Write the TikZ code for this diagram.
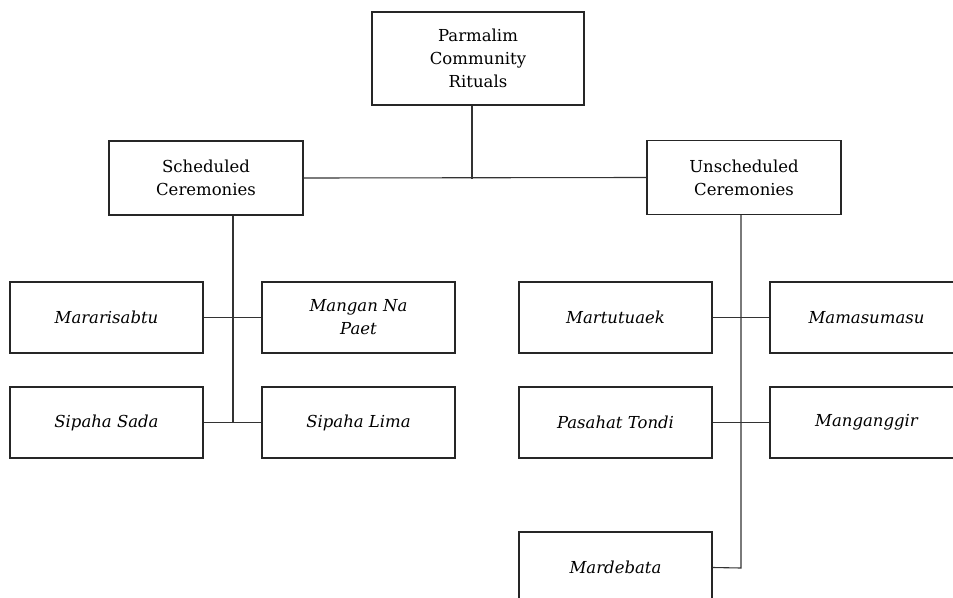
\documentclass[tikz,border=0pt]{standalone}
\usepackage{fontspec}
\setmainfont{DejaVu Serif}
\usepackage{tikz}
\usetikzlibrary{positioning}

\tikzset{
  box/.style={draw=black!85, line width=1.1pt, fill=white, align=center, inner sep=0pt,
    font=\fontsize{16.5}{23}\selectfont},
  topbox/.style={box, minimum width=212, minimum height=93},
  midbox/.style={box, minimum width=194, minimum height=74},
  leafbox/.style={box, minimum width=193, minimum height=71, font=\fontsize{16.5}{23}\selectfont\itshape},
  link/.style={draw=black!80, line width=1.1pt}
}

\begin{document}
\begin{tikzpicture}[x=1pt, y=-1pt]
\useasboundingbox (0,0) rectangle (953,597);
\clip (0,0) rectangle (953,597);
\fill[white] (0,0) rectangle (953,597);

\coordinate (hub) at (472,179);
\coordinate (lspine) at (233,423);
\coordinate (rspine) at (741,568);

\node[topbox] (root) at (478,58.5) {Parmalim\\Community\\Rituals};
\node[midbox] (sched) at (206,178) {Scheduled\\Ceremonies};
\node[midbox] (unsched) at (744,177.5) {Unscheduled\\Ceremonies};

\node[leafbox] (mararisabtu) at (106.5,317.5) {Mararisabtu};
\node[leafbox] (mangan) at (358.5,317.5) {Mangan Na\\Paet};
\node[leafbox] (sipahasada) at (106.5,422.5) {Sipaha Sada};
\node[leafbox] (sipahalima) at (358.5,422.5) {Sipaha Lima};

\node[leafbox] (martutuaek) at (615.5,317.5) {Martutuaek};
\node[leafbox] (mamasumasu) at (866.5,317.5) {Mamasumasu};
\node[leafbox] (pasahat) at (615.5,422.5) {Pasahat Tondi};
\node[leafbox] (manganggir) at (866.5,422.5) {Manganggir};
\node[leafbox] (mardebata) at (615.5,567.5) {Mardebata};

\draw[link] (root.south -| hub) -- (hub);
\draw[link] (sched.east) -- (unsched.west);

\draw[link] (sched.south -| lspine) -- (lspine);
\draw[link] (mararisabtu.east) -- (mangan.west);
\draw[link] (sipahasada.east) -- (sipahalima.west);

\draw[link] (unsched.south -| rspine) -- (rspine) -- (mardebata.east);
\draw[link] (martutuaek.east) -- (mamasumasu.west);
\draw[link] (pasahat.east) -- (manganggir.west);
\end{tikzpicture}
\end{document}
